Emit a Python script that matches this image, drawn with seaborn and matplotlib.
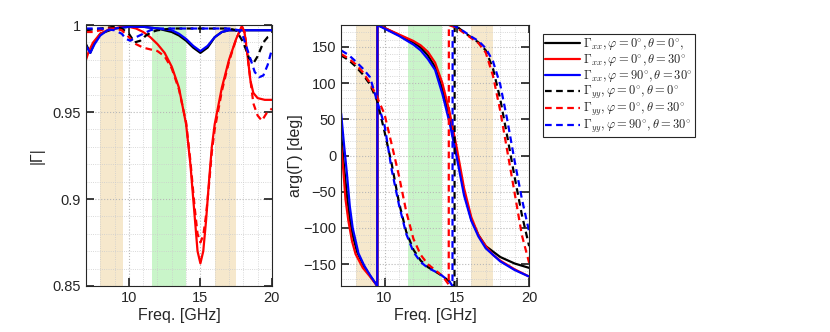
import matplotlib
matplotlib.use("Agg")
import matplotlib.pyplot as plt
import numpy as np
import seaborn as sns
from matplotlib.ticker import MultipleLocator

sns.set_theme(style="ticks")
plt.rcParams['font.family'] = ['Liberation Sans', 'DejaVu Sans']
plt.rcParams['mathtext.fontset'] = 'cm'

# ---------------- data ----------------
labels = [r'$\Gamma_{xx}, \varphi=0^{\circ}, \theta=0^{\circ},$',
          r'$\Gamma_{xx}, \varphi=0^{\circ}, \theta=30^{\circ}$',
          r'$\Gamma_{xx}, \varphi=90^{\circ}, \theta=30^{\circ}$',
          r'$\Gamma_{yy}, \varphi=0^{\circ}, \theta=0^{\circ}$',
          r'$\Gamma_{yy}, \varphi=0^{\circ}, \theta=30^{\circ}$',
          r'$\Gamma_{yy}, \varphi=90^{\circ}, \theta=30^{\circ}$']
colors = ['black', 'red', 'blue', 'black', 'red', 'blue']
styles = ['-', '-', '-', '--', '--', '--']

bands = [(8.0, 9.6, '#F6E8CC'), (11.6, 14.0, '#C9F5C9'), (16.0, 17.5, '#F6E8CC')]

# |Gamma|
mag_xx_00_f = [7.0, 7.3, 7.6, 8.0, 9.0, 10.0, 11.0, 12.0, 13.0, 13.5, 14.0, 14.5, 15.0, 15.5, 16.0, 16.5, 17.0, 18.0, 19.0, 20.0]
mag_xx_00 = [0.989, 0.984, 0.990, 0.995, 0.998, 0.999, 0.999, 0.998, 0.996, 0.994, 0.991, 0.987, 0.984, 0.987, 0.993, 0.996, 0.997, 0.997, 0.997, 0.997]

mag_xx_030_f = [7.0, 7.2, 7.5, 8.0, 8.5, 9.0, 9.5, 10.0, 10.5, 11.0, 11.5, 12.0, 12.5, 13.0, 13.5, 14.0, 14.3, 14.6, 14.8, 15.0,
                15.2, 15.4, 15.6, 15.8, 16.0, 16.5, 17.0, 17.5, 17.9, 18.1, 18.3, 18.5, 18.7, 19.0, 19.5, 20.0]
mag_xx_030 = [0.980, 0.985, 0.990, 0.995, 0.997, 0.998, 0.999, 0.999, 0.998, 0.996, 0.993, 0.989, 0.984, 0.976, 0.964, 0.943, 0.920, 0.890, 0.870, 0.863,
              0.870, 0.888, 0.910, 0.930, 0.943, 0.964, 0.980, 0.992, 0.9995, 0.995, 0.982, 0.968, 0.961, 0.958, 0.957, 0.957]

mag_xx_9030_f = [7.0, 7.3, 7.6, 8.0, 8.5, 9.0, 10.0, 11.0, 12.0, 13.0, 13.5, 14.0, 14.5, 15.0, 15.5, 16.0, 16.5, 17.0, 18.0, 20.0]
mag_xx_9030 = [0.988, 0.984, 0.989, 0.994, 0.997, 0.998, 0.999, 0.999, 0.998, 0.997, 0.995, 0.992, 0.988, 0.985, 0.988, 0.993, 0.996, 0.997, 0.997, 0.997]

mag_yy_00_f = [7.0, 8.0, 9.0, 9.5, 10.0, 10.4, 10.8, 11.2, 11.6, 12.0, 13.0, 14.0, 15.0, 16.0, 17.0, 17.5, 18.0, 18.4, 18.7, 19.0, 19.4, 19.7, 20.0]
mag_yy_00 = [0.997, 0.998, 0.999, 0.998, 0.995, 0.990, 0.991, 0.994, 0.996, 0.997, 0.998, 0.998, 0.998, 0.998, 0.998, 0.997, 0.990, 0.981, 0.978, 0.982, 0.990, 0.993, 0.994]

mag_yy_030_f = [7.0, 7.5, 8.0, 8.5, 9.0, 9.5, 10.0, 10.5, 11.0, 11.5, 12.0, 12.5, 13.0, 13.5, 14.0, 14.3, 14.6, 14.8, 15.0,
                15.2, 15.4, 15.6, 15.8, 16.0, 16.5, 17.0, 17.5, 17.9, 18.1, 18.4, 18.7, 19.0, 19.3, 19.6, 20.0]
mag_yy_030 = [0.996, 0.996, 0.997, 0.998, 0.998, 0.997, 0.993, 0.989, 0.987, 0.986, 0.985, 0.982, 0.975, 0.963, 0.944, 0.922, 0.895, 0.880, 0.875,
              0.879, 0.891, 0.908, 0.927, 0.940, 0.962, 0.979, 0.992, 0.999, 0.996, 0.975, 0.955, 0.948, 0.945, 0.949, 0.952]

mag_yy_9030_f = [7.0, 8.0, 9.0, 9.5, 9.8, 10.1, 10.5, 11.0, 11.5, 12.0, 13.0, 14.0, 15.0, 16.0, 17.0, 17.7, 18.0, 18.4, 18.8, 19.1, 19.4, 19.7, 20.0]
mag_yy_9030 = [0.998, 0.998, 0.997, 0.995, 0.992, 0.991, 0.993, 0.995, 0.997, 0.998, 0.998, 0.998, 0.998, 0.998, 0.998, 0.997, 0.993, 0.983, 0.973, 0.970, 0.971, 0.977, 0.986]

# arg(Gamma) [deg] (wrapped, the jumps are kept as in the original)
ph_xx_00_f = [7.0, 7.2, 7.4, 7.6, 7.8, 8.1, 8.6, 9.0, 9.5, 9.51, 10.0, 11.0, 12.0, 12.5, 13.0, 13.5, 14.0, 14.5, 15.0, 15.5, 16.0, 16.5, 17.0, 18.0, 19.0, 20.0]
ph_xx_00 = [30, -15, -55, -88, -110, -133, -154, -166, -180, 180, 176, 166, 156, 149, 138, 122, 92, 52, 2, -50, -88, -110, -125, -140, -149, -155]

ph_xx_030_f = [7.0, 7.15, 7.3, 7.5, 7.75, 8.0, 8.5, 9.0, 9.5, 9.51, 10.0, 11.0, 12.0, 12.5, 13.0, 13.5, 14.0, 14.5, 15.0, 15.5, 16.0, 16.5, 17.0, 17.5, 18.0, 19.0, 20.0]
ph_xx_030 = [14, -20, -60, -90, -118, -136, -155, -167, -180, 180, 176, 167, 158, 152, 143, 128, 100, 60, 10, -45, -85, -110, -125, -137, -145, -157, -167]

ph_xx_9030_f = [7.0, 7.2, 7.4, 7.6, 7.8, 8.2, 8.6, 9.0, 9.5, 9.51, 10.0, 11.0, 12.0, 12.5, 13.0, 13.5, 14.0, 14.5, 15.0, 15.5, 16.0, 16.5, 17.0, 18.0, 19.0, 20.0]
ph_xx_9030 = [58, 15, -25, -70, -100, -135, -152, -165, -180, 180, 175, 165, 153, 145, 133, 118, 85, 45, -3, -55, -90, -112, -128, -146, -158, -167]

ph_yy_00_f = [7.0, 7.5, 8.0, 8.5, 9.0, 9.5, 10.0, 10.5, 11.0, 11.5, 12.0, 12.5, 13.0, 13.5, 14.0, 14.5, 14.84, 14.85, 15.0, 15.5, 16.0, 16.5, 17.0, 17.5, 18.0, 18.5, 19.0, 19.5, 20.0]
ph_yy_00 = [138, 132, 123, 112, 98, 75, 33, -12, -65, -105, -130, -145, -154, -160, -166, -174, -180, 180, 178, 170, 163, 156, 145, 120, 78, 25, -30, -82, -125]

ph_yy_030_f = [7.0, 7.5, 8.0, 8.5, 9.0, 9.5, 10.0, 10.5, 11.0, 11.5, 12.0, 12.5, 13.0, 13.5, 14.0, 14.44, 14.45, 15.0, 15.5, 16.0, 16.5, 17.0, 17.5, 18.0, 18.5, 19.0, 19.5, 20.0]
ph_yy_030 = [140, 134, 126, 115, 100, 80, 57, 15, -28, -77, -115, -137, -150, -158, -166, -178, 180, 176, 169, 162, 155, 142, 110, 62, 5, -52, -110, -148]

ph_yy_9030_f = [7.0, 7.5, 8.0, 8.5, 9.0, 9.5, 10.0, 10.5, 11.0, 11.5, 12.0, 12.5, 13.0, 13.5, 14.0, 14.5, 14.7, 14.71, 15.0, 15.5, 16.0, 16.5, 17.0, 17.5, 18.0, 18.5, 19.0, 19.5, 20.0]
ph_yy_9030 = [145, 139, 130, 120, 108, 74, 42, -20, -68, -108, -133, -147, -155, -160, -166, -174, -180, 180, 177, 171, 164, 158, 148, 130, 98, 48, -8, -60, -105]

mag_curves = [(mag_xx_00_f, mag_xx_00), (mag_xx_030_f, mag_xx_030), (mag_xx_9030_f, mag_xx_9030),
              (mag_yy_00_f, mag_yy_00), (mag_yy_030_f, mag_yy_030), (mag_yy_9030_f, mag_yy_9030)]
ph_curves = [(ph_xx_00_f, ph_xx_00), (ph_xx_030_f, ph_xx_030), (ph_xx_9030_f, ph_xx_9030),
             (ph_yy_00_f, ph_yy_00), (ph_yy_030_f, ph_yy_030), (ph_yy_9030_f, ph_yy_9030)]

# ---------------- figure ----------------
fig = plt.figure(figsize=(8.3, 3.32), dpi=100)
ax1 = fig.add_axes([0.1036, 0.1386, 0.224, 0.786])
ax2 = fig.add_axes([0.411, 0.1386, 0.2265, 0.786])


def style_axes(ax):
    for lo, hi, c in bands:
        ax.axvspan(lo, hi, color=c, lw=0, zorder=0)
    ax.set_xlim(7, 20)
    ax.set_xticks([10, 15, 20])
    ax.xaxis.set_minor_locator(MultipleLocator(1))
    ax.set_axisbelow(True)
    ax.grid(which='major', color='0.72', linestyle=':', linewidth=0.8)
    ax.grid(which='minor', color='0.8', linestyle=':', linewidth=0.6)
    ax.tick_params(which='both', direction='in', top=True, right=True, labelsize=10.5, color='0.15')
    ax.tick_params(which='minor', length=0)
    for s in ax.spines.values():
        s.set_color('0.15')
        s.set_linewidth(0.8)
    ax.set_xlabel('Freq. [GHz]', fontsize=11.5, labelpad=2)


for (f, v), c, ls, lab in zip(mag_curves, colors, styles, labels):
    sns.lineplot(x=f, y=v, ax=ax1, color=c, linewidth=1.6, estimator=None, sort=False,
                 linestyle=ls, label=lab)
for (f, v), c, ls, lab in zip(ph_curves, colors, styles, labels):
    sns.lineplot(x=f, y=v, ax=ax2, color=c, linewidth=1.6, estimator=None, sort=False,
                 linestyle=ls, label=lab)

for ax in (ax1, ax2):
    for ln in ax.get_lines():
        if ln.get_linestyle() == '--':
            ln.set_dashes((3, 2))
    if ax.get_legend() is not None:
        ax.get_legend().remove()

style_axes(ax1)
ax1.set_ylim(0.85, 1.0)
ax1.set_yticks([0.85, 0.9, 0.95, 1.0])
ax1.set_yticklabels(['0.85', '0.9', '0.95', '1'])
ax1.yaxis.set_minor_locator(MultipleLocator(0.01))
ax1.set_ylabel('|Γ|', fontsize=11.5, labelpad=6)

style_axes(ax2)
ax2.set_ylim(-180, 180)
ax2.set_yticks([-150, -100, -50, 0, 50, 100, 150])
ax2.yaxis.set_minor_locator(MultipleLocator(10))
ax2.set_ylabel('arg(Γ) [deg]', fontsize=11.5, labelpad=0)

handles, labs = ax2.get_legend_handles_labels()
leg = fig.legend(handles, labs, loc='upper left', bbox_to_anchor=(0.654, 0.897),
                 fontsize=9, frameon=True, fancybox=False, framealpha=1,
                 edgecolor='0.15', handlelength=2.8, handletextpad=0.3,
                 labelspacing=0.0, borderpad=0.15, borderaxespad=0)
leg.get_frame().set_linewidth(0.8)
for h in leg.get_lines():
    if h.get_linestyle() == '--':
        h.set_dashes((3, 2))

fig.savefig('out.png', dpi=100)
